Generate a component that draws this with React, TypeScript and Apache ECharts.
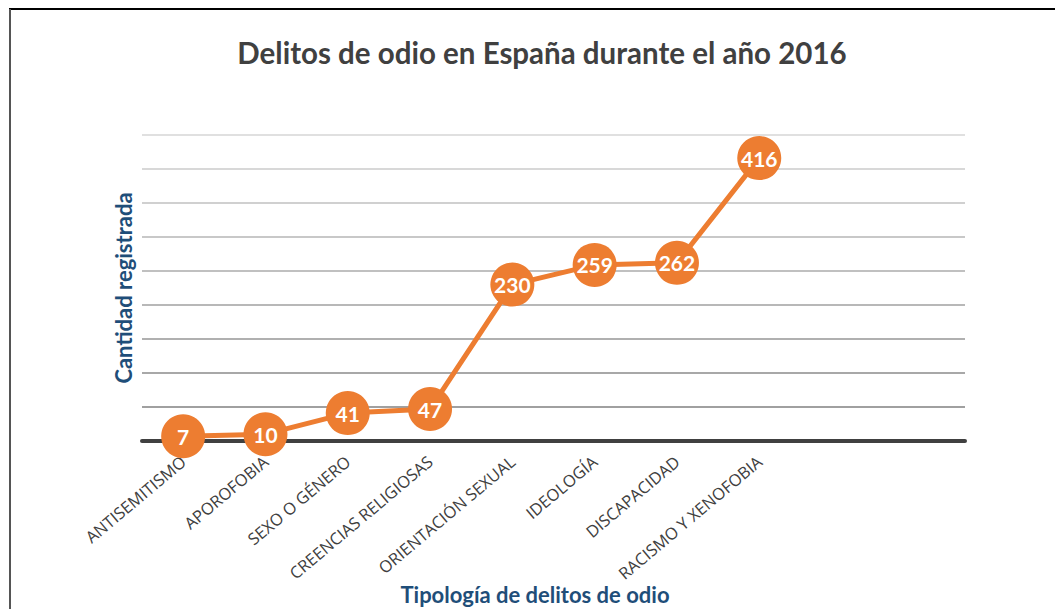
import React, { useEffect, useRef } from "react";
import * as echarts from "echarts";

const categories = [
  "ANTISEMITISMO",
  "APOROFOBIA",
  "SEXO O GÉNERO",
  "CREENCIAS RELIGIOSAS",
  "ORIENTACIÓN SEXUAL",
  "IDEOLOGÍA",
  "DISCAPACIDAD",
  "RACISMO Y XENOFOBIA",
  "",
  "",
];
const values = [7, 10, 41, 47, 230, 259, 262, 416];
const chartTitle = "Delitos de odio en España durante el año 2016";
const xAxisTitle = "Tipología de delitos de odio";
const yAxisTitle = "Cantidad registrada";

const gridColors = [
  "#a0a0a0",
  "#a0a0a0",
  "#a8a8a8",
  "#b0b0b0",
  "#b8b8b8",
  "#c0c0c0",
  "#c8c8c8",
  "#d0d0d0",
  "#d8d8d8",
  "#e0e0e0",
];

export default function App() {
  const ref = useRef<HTMLDivElement>(null);
  useEffect(() => {
    if (!ref.current) return;
    const chart = echarts.init(ref.current, null, { renderer: "svg" });
    chart.setOption({
      animation: false,
      backgroundColor: "#ffffff",
      textStyle: { fontFamily: "Lato" },
      title: {
        text: chartTitle,
        left: 537,
        textAlign: "center",
        top: 32,
        textStyle: { fontFamily: "Lato", fontWeight: "bold", fontSize: 29.5, color: "#404040" },
      },
      graphic: [
        { type: "line", shape: { x1: 9, y1: 9, x2: 1055, y2: 9 }, style: { stroke: "#000000", lineWidth: 2 } },
        { type: "line", shape: { x1: 10, y1: 9, x2: 10, y2: 609 }, style: { stroke: "#555555", lineWidth: 2 } },
        {
          type: "text",
          x: 535,
          y: 594,
          style: {
            text: xAxisTitle,
            fontFamily: "Lato",
            fontWeight: "bold",
            fontSize: 22,
            fill: "#1f4e79",
            textAlign: "center",
            textVerticalAlign: "middle",
          },
        },
      ],
      grid: { left: 142, right: 90, top: 135, bottom: 168 },
      xAxis: {
        type: "category",
        data: categories,
        boundaryGap: true,
        axisLine: { show: true, lineStyle: { color: "#404040", width: 4 } },
        axisTick: { show: false },
        axisLabel: {
          rotate: 40,
          interval: 0,
          margin: 18,
          fontFamily: "Open Sans",
          fontSize: 16.5,
          color: "#404040",
        },
      },
      yAxis: {
        type: "value",
        min: 0,
        max: 450,
        interval: 50,
        axisLine: { show: false },
        axisTick: { show: false },
        axisLabel: { show: false },
        splitLine: { show: true, lineStyle: { color: gridColors, width: 2 } },
        name: yAxisTitle,
        nameLocation: "middle",
        nameGap: 8,
        nameTextStyle: { fontFamily: "Lato", fontWeight: "bold", fontSize: 22, color: "#1f4e79" },
      },
      series: [
        {
          type: "line",
          data: values,
          symbol: "circle",
          symbolSize: 44,
          lineStyle: { color: "#ed7d31", width: 5 },
          itemStyle: { color: "#ed7d31" },
          label: {
            show: true,
            position: "inside",
            fontFamily: "Lato",
            fontWeight: "bold",
            fontSize: 21,
            color: "#ffffff",
          },
          z: 3,
        },
      ],
    });
    return () => chart.dispose();
  }, []);
  return (
    <div
      ref={ref}
      style={{ position: "absolute", left: 0, top: 0, width: 1055, height: 609 }}
    />
  );
}
